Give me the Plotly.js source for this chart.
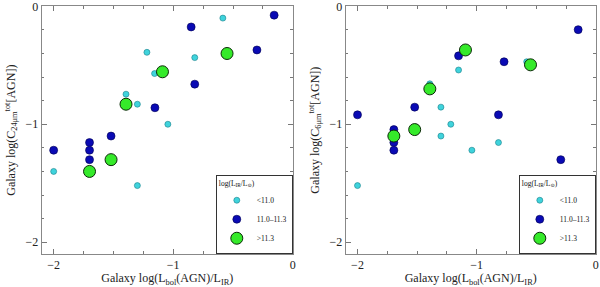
<!DOCTYPE html>
<html>
<head>
<meta charset="utf-8">
<script src="https://cdn.plot.ly/plotly-3.0.1.min.js"></script>
<style>html,body{margin:0;padding:0;background:#fff;}#chart{width:600px;height:287px;}</style>
</head>
<body>
<div id="chart"></div>
<script>
// Legend categories: log(L_IR/L_sun)
const categories = ["<11.0", "11.0\u201311.3", ">11.3"];

// Left panel: x = log(Lbol(AGN)/LIR), y = log(C24um tot [AGN])
const leftLowX  = [-0.585, -1.22, -0.82, -1.156, -1.395, -1.30, -1.045, -2.0, -1.30];
const leftLowY  = [-0.10, -0.39, -0.435, -0.57, -0.745, -0.83, -1.0, -1.40, -1.52];
const leftMidX  = [-0.156, -0.85, -0.30, -0.82, -1.153, -1.52, -1.70, -1.70, -1.70, -2.0];
const leftMidY  = [-0.075, -0.175, -0.37, -0.66, -0.86, -1.10, -1.155, -1.22, -1.30, -1.22];
const leftHighX = [-0.55, -1.09, -1.395, -1.52, -1.70];
const leftHighY = [-0.40, -0.555, -0.83, -1.30, -1.40];

// Right panel: x = log(Lbol(AGN)/LIR), y = log(C6um tot [AGN])
const rightLowX  = [-0.58, -1.152, -1.393, -1.30, -1.217, -1.30, -0.817, -1.04, -2.0];
const rightLowY  = [-0.47, -0.54, -0.657, -0.855, -1.0, -1.10, -1.155, -1.22, -1.52];
const rightMidX  = [-0.148, -1.152, -0.77, -1.52, -2.0, -0.817, -1.695, -1.695, -1.695, -0.294];
const rightMidY  = [-0.198, -0.42, -0.47, -0.855, -0.92, -0.92, -1.045, -1.155, -1.22, -1.30];
const rightHighX = [-1.094, -0.548, -1.393, -1.52, -1.695];
const rightHighY = [-0.37, -0.496, -0.70, -1.045, -1.10];

const styles = [
  {size: 6,  color: "#3fd3dc", line: {color: "#1a7f8a", width: 0.6}},
  {size: 8,  color: "#0a0ab4", line: {color: "#000050", width: 0.6}},
  {size: 12, color: "#35ea2a", line: {color: "#0b2a08", width: 1}}
];

function tr(x, y, i, xa, ya, lg) {
  return {type: "scatter", mode: "markers", x: x, y: y, name: categories[i],
    xaxis: xa, yaxis: ya, legend: lg, marker: styles[i], hoverinfo: "x+y"};
}

const data = [
  tr(leftLowX, leftLowY, 0, "x", "y", "legend"),
  tr(leftMidX, leftMidY, 1, "x", "y", "legend"),
  tr(leftHighX, leftHighY, 2, "x", "y", "legend"),
  tr(rightLowX, rightLowY, 0, "x2", "y2", "legend2"),
  tr(rightMidX, rightMidY, 1, "x2", "y2", "legend2"),
  tr(rightHighX, rightHighY, 2, "x2", "y2", "legend2")
];

const fontFam = "Liberation Serif, DejaVu Serif, serif";
function xax(dom, anchor) {
  return {domain: dom, anchor: anchor, range: [-2.1, 0], tickvals: [-2, -1, 0],
    ticktext: ["\u22122", "\u22121", "0"], ticklabeloverflow: "allow",
    ticks: "inside", ticklen: 5, tickcolor: "#777", tickwidth: 1,
    showline: true, linecolor: "#888", linewidth: 1, mirror: "ticks",
    showgrid: false, zeroline: false, automargin: false,
    tickfont: {family: fontFam, size: 12, color: "#222"},
    minor: {dtick: 0.25, tick0: 0, ticks: "inside", ticklen: 2.5, tickcolor: "#777", showgrid: false},
    title: {text: "Galaxy log(L<sub>bol</sub>(AGN)/L<sub>IR</sub>)", font: {family: fontFam, size: 12, color: "#222"}, standoff: 4}};
}
function yax(dom, anchor, label) {
  return {domain: dom, anchor: anchor, range: [-2.1, 0], tickvals: [-2, -1, 0],
    ticktext: ["\u22122", "\u22121", "0"], ticklabeloverflow: "allow",
    ticks: "inside", ticklen: 5, tickcolor: "#777", tickwidth: 1,
    showline: true, linecolor: "#888", linewidth: 1, mirror: "ticks",
    showgrid: false, zeroline: false, automargin: false,
    tickfont: {family: fontFam, size: 12, color: "#222"},
    minor: {dtick: 0.2, tick0: 0, ticks: "inside", ticklen: 2.5, tickcolor: "#777", showgrid: false},
    title: {text: label, font: {family: fontFam, size: 12, color: "#222"}, standoff: 7}};
}
function leg(xr) {
  return {x: xr, y: 0.115, xanchor: "right", yanchor: "bottom", bgcolor: "#fff",
    bordercolor: "#333", borderwidth: 1, font: {family: fontFam, size: 7.5, color: "#111"},
    title: {text: "log(L<sub>IR</sub>/L<sub>\u2299</sub>)", font: {family: fontFam, size: 7.5, color: "#111"}},
    tracegroupgap: 0, itemsizing: "trace", itemwidth: 30};
}

const layout = {
  width: 600, height: 287, margin: {l: 0, r: 0, t: 0, b: 0},
  paper_bgcolor: "#fff", plot_bgcolor: "#fff", showlegend: true,
  xaxis: xax([0.0695, 0.488], "y"),
  yaxis: yax([0.115, 0.978], "x", "Galaxy log(C<sub>24\u03bcm</sub><sup>tot</sup>[AGN])"),
  xaxis2: xax([0.576, 0.993], "y2"),
  yaxis2: yax([0.115, 0.978], "x2", "Galaxy log(C<sub>6\u03bcm</sub><sup>tot</sup>[AGN])"),
  legend: leg(0.488),
  legend2: leg(0.993)
};

Plotly.newPlot("chart", data, layout, {displayModeBar: false, staticPlot: true});
</script>
</body>
</html>
